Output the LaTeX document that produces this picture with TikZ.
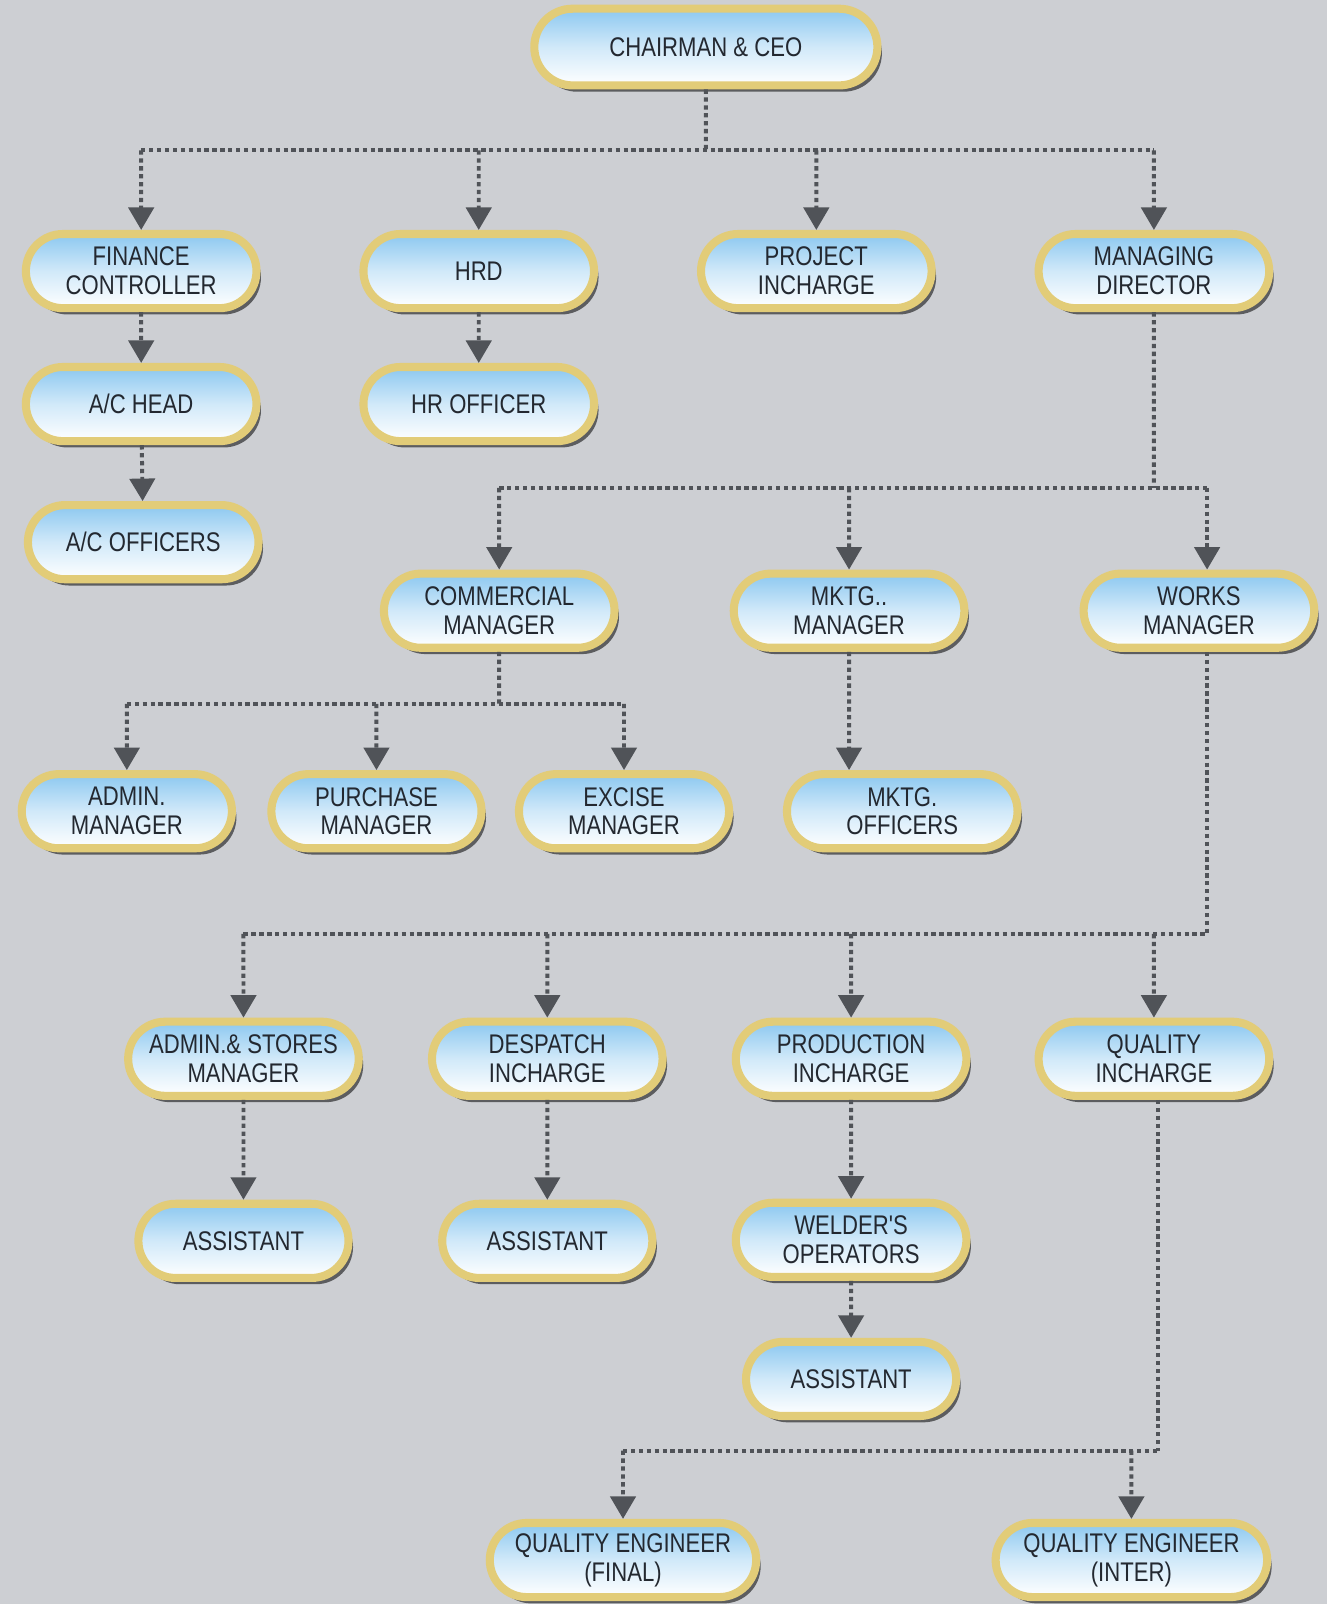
\documentclass[tikz,border=0pt]{standalone}
\usepackage{fontspec}
\newfontfamily\pillfont{Liberation Sans}[FakeStretch=0.82]
\usetikzlibrary{arrows.meta,shapes.misc,shadows}
\definecolor{orgback}{RGB}{205,207,211}
\definecolor{orgblue}{RGB}{140,200,240}
\definecolor{orgrim}{RGB}{226,204,120}
\definecolor{orgink}{RGB}{35,40,48}
\definecolor{orglink}{RGB}{80,83,88}
\tikzset{
  pill/.style={rounded rectangle, draw=orgrim, line width=4.5pt,
               top color=orgblue, bottom color=white, middle color=orgblue!40,
               minimum width=4.65cm, minimum height=1.45cm, inner sep=2pt,
               align=center, text=orgink,
               font=\pillfont\fontsize{15pt}{16pt}\selectfont,
               drop shadow={shadow xshift=2.5pt, shadow yshift=-3.5pt,
                            fill=black, opacity=0.55}},
  pillS/.style={pill, minimum width=4.25cm},
  link/.style={orglink, line width=2.2pt, dash pattern=on 2.4pt off 2pt},
  drop/.style={link, -{Triangle[width=14pt,length=12.5pt]}},
}
\begin{document}
\begin{tikzpicture}[x=0.02cm, y=-0.02cm]
  \fill[orgback] (0,0) rectangle (1297,1568);
  \useasboundingbox (0,0) rectangle (1297,1568);
  \node[pill, minimum width=6.85cm, minimum height=1.5cm] (ceo) at (690,46) {CHAIRMAN \& CEO};
  \node[pill] (fin)  at (138,265)  {FINANCE\\CONTROLLER};
  \node[pill] (hrd)  at (468,265)  {HRD};
  \node[pill] (proj) at (798,265)  {PROJECT\\INCHARGE};
  \node[pill] (md)   at (1128,265) {MANAGING\\DIRECTOR};
  \node[pill] (ach)  at (138,395)  {A/C HEAD};
  \node[pill] (hro)  at (468,395)  {HR OFFICER};
  \node[pill] (aco)  at (140,530)  {A/C OFFICERS};
  \node[pill] (com)  at (488,597)  {COMMERCIAL\\MANAGER};
  \node[pill] (mkm)  at (830,597)  {MKTG..\\MANAGER};
  \node[pill] (wm)   at (1172,597) {WORKS\\MANAGER};
  \node[pillS] (adm) at (124,793)  {ADMIN.\\MANAGER};
  \node[pillS] (pur) at (368,793)  {PURCHASE\\MANAGER};
  \node[pillS] (exc) at (610,793)  {EXCISE\\MANAGER};
  \node[pill] (mko)  at (882,793)  {MKTG.\\OFFICERS};
  \node[pill] (asm)  at (238,1035) {ADMIN.\& STORES\\MANAGER};
  \node[pill] (des)  at (535,1035) {DESPATCH\\INCHARGE};
  \node[pill] (pro)  at (832,1035) {PRODUCTION\\INCHARGE};
  \node[pill] (qin)  at (1128,1035) {QUALITY\\INCHARGE};
  \node[pillS] (as1) at (238,1213) {ASSISTANT};
  \node[pillS] (as2) at (535,1213) {ASSISTANT};
  \node[pill] (wel)  at (832,1212) {WELDER'S\\OPERATORS};
  \node[pillS] (as3) at (832,1348) {ASSISTANT};
  \node[pill, minimum width=5.35cm] (qef) at (609,1525) {QUALITY ENGINEER\\(FINAL)};
  \node[pill, minimum width=5.45cm] (qei) at (1106,1525) {QUALITY ENGINEER\\(INTER)};
  \coordinate (b1) at (690,147);
  \coordinate (b2) at (1128,477);
  \coordinate (b3) at (488,688);
  \coordinate (b4) at (1180,913);
  \coordinate (b5) at (1132,1418);
  \draw[link] (ceo) -- (b1);
  \draw[link] (fin |- b1) -- (md |- b1);
  \draw[drop] (fin |- b1) -- (fin);
  \draw[drop] (hrd |- b1) -- (hrd);
  \draw[drop] (proj |- b1) -- (proj);
  \draw[drop] (md |- b1) -- (md);
  \draw[drop] (fin) -- (ach);
  \draw[drop] (ach) -- (aco);
  \draw[drop] (hrd) -- (hro);
  \draw[link] (md) -- (b2);
  \draw[link] (com |- b2) -- (b4 |- b2);
  \draw[drop] (com |- b2) -- (com);
  \draw[drop] (mkm |- b2) -- (mkm);
  \draw[drop] (b4 |- b2) -- (b4 |- wm.north);
  \draw[link] (com) -- (b3);
  \draw[link] (adm |- b3) -- (exc |- b3);
  \draw[drop] (adm |- b3) -- (adm);
  \draw[drop] (pur |- b3) -- (pur);
  \draw[drop] (exc |- b3) -- (exc);
  \draw[drop] (mkm) -- (mkm |- mko.north);
  \draw[link] (b4 |- wm.south) -- (b4);
  \draw[link] (asm |- b4) -- (b4);
  \draw[drop] (asm |- b4) -- (asm);
  \draw[drop] (des |- b4) -- (des);
  \draw[drop] (pro |- b4) -- (pro);
  \draw[drop] (qin |- b4) -- (qin);
  \draw[drop] (asm) -- (as1);
  \draw[drop] (des) -- (as2);
  \draw[drop] (pro) -- (wel);
  \draw[drop] (wel) -- (as3);
  \draw[link] (b5 |- qin.south) -- (b5);
  \draw[link] (qef |- b5) -- (b5);
  \draw[drop] (qef |- b5) -- (qef);
  \draw[drop] (qei |- b5) -- (qei);
\end{tikzpicture}
\end{document}
